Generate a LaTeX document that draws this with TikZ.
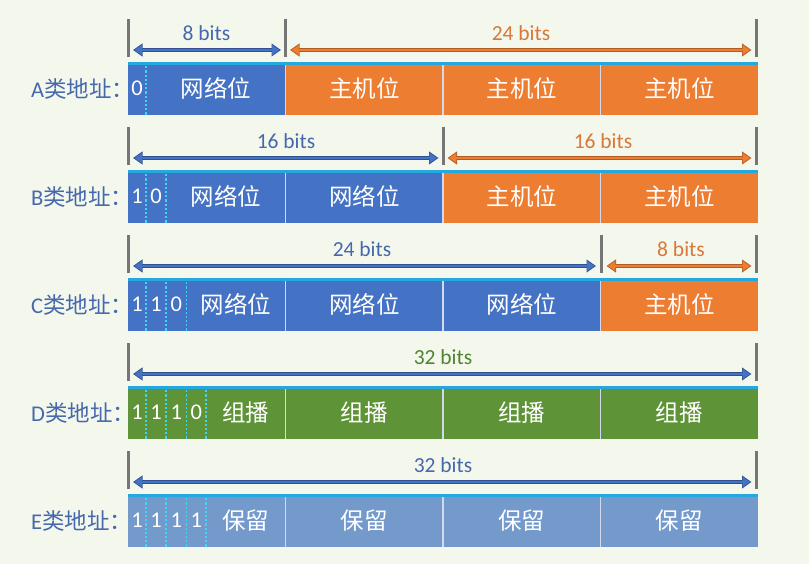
\documentclass[tikz,border=0pt]{standalone}
\usepackage{fontspec}
\setmainfont{Carlito}
\newfontfamily\cjk{Noto Sans CJK SC}
\usetikzlibrary{arrows.meta}
\definecolor{bg}{HTML}{F4F7EC}
\definecolor{cblue}{HTML}{4472C4}
\definecolor{corange}{HTML}{ED7D31}
\definecolor{cgreen}{HTML}{5E9338}
\definecolor{clight}{HTML}{7499CB}
\definecolor{cbar}{HTML}{25A8DE}
\definecolor{cdash}{HTML}{3FD6F6}
\definecolor{csep}{HTML}{D3D9EC}
\definecolor{ctick}{HTML}{767676}
\definecolor{tblue}{HTML}{4569AC}
\definecolor{torange}{HTML}{D8783A}
\definecolor{tgreen}{HTML}{4F8430}
\definecolor{ablueo}{HTML}{2F528F}
\definecolor{aorangeo}{HTML}{B15C22}
\tikzset{
  cell/.style={inner sep=0pt, outer sep=0pt, minimum height=53pt, text=white,
    font=\cjk\fontsize{23.5}{23.5}\selectfont},
  bitcell/.style={inner sep=0pt, outer sep=0pt, minimum height=53pt, text=white,
    font=\fontsize{22.5}{22.5}\selectfont},
  rowlabel/.style={inner sep=0pt, anchor=west, text=tblue,
    font=\fontsize{22.5}{22.5}\selectfont},
  dimlabel/.style={inner sep=0pt, font=\fontsize{21.5}{21.5}\selectfont},
  sepline/.style={draw=csep, line width=1.6pt},
  dashline/.style={draw=cdash, line width=1.6pt, dash pattern=on 2.2pt off 2pt},
  tickline/.style={draw=ctick, line width=3pt},
  arrout/.style={line width=4.6pt, draw=#1,
    {Triangle[length=9.5pt,width=12.5pt]}-{Triangle[length=9.5pt,width=12.5pt]}},
  arrin/.style={line width=2.6pt, draw=#1, shorten <=1.4pt, shorten >=1.4pt,
    {Triangle[length=7.5pt,width=9.5pt]}-{Triangle[length=7.5pt,width=9.5pt]}},
}
\begin{document}
\begin{tikzpicture}[x=1pt,y=-1pt]
\useasboundingbox (0,0) rectangle (809,564);
\fill[bg] (0,0) rectangle (809,564);

% ---------------- Row A ----------------
\node[rowlabel] (LA) at (31,88.5) {A{\cjk 类地址：}};
\node[bitcell, fill=cblue, minimum width=18pt] (A0) at (137,88.5) {0};
\node[cell, fill=cblue, minimum width=139.5pt] (A1) at (215.75,88.5) {网络位};
\node[cell, fill=corange, minimum width=157.5pt] (A2) at (364.25,88.5) {主机位};
\node[cell, fill=corange, minimum width=157.5pt] (A3) at (521.75,88.5) {主机位};
\node[cell, fill=corange, minimum width=157.5pt] (A4) at (679.25,88.5) {主机位};
\draw[dashline] (A0.north east) -- (A0.south east);
\foreach \c in {A1,A2,A3} \draw[sepline] (\c.north east) -- (\c.south east);
\fill[cbar] (A0.north west) rectangle ([yshift=-3pt]A4.north east);
\draw[tickline] (128.5,19) -- (128.5,57);
\draw[tickline] (285.5,19) -- (285.5,57);
\draw[tickline] (756.5,19) -- (756.5,57);
\coordinate (pA0) at (133,50);
\coordinate (pA1) at (281,50);
\coordinate (pA2) at (290,50);
\coordinate (pA3) at (751.5,50);
\draw[arrout=ablueo] (pA0) -- (pA1);
\draw[arrin=cblue] (pA0) -- (pA1);
\draw[arrout=aorangeo] (pA2) -- (pA3);
\draw[arrin=corange] (pA2) -- (pA3);
\node[dimlabel, text=tblue] (dA1) at (206.5,33) {8 bits};
\node[dimlabel, text=torange] (dA2) at (521,33) {24 bits};

% ---------------- Row B ----------------
\node[rowlabel] (LB) at (31,196.5) {B{\cjk 类地址：}};
\node[bitcell, fill=cblue, minimum width=18pt] (B0) at (137,196.5) {1};
\node[bitcell, fill=cblue, minimum width=20pt] (B1) at (156,196.5) {0};
\node[cell, fill=cblue, minimum width=119.5pt] (B2) at (225.75,196.5) {网络位};
\node[cell, fill=cblue, minimum width=157.5pt] (B3) at (364.25,196.5) {网络位};
\node[cell, fill=corange, minimum width=157.5pt] (B4) at (521.75,196.5) {主机位};
\node[cell, fill=corange, minimum width=157.5pt] (B5) at (679.25,196.5) {主机位};
\foreach \c in {B0,B1} \draw[dashline] (\c.north east) -- (\c.south east);
\foreach \c in {B2,B3,B4} \draw[sepline] (\c.north east) -- (\c.south east);
\fill[cbar] (B0.north west) rectangle ([yshift=-3pt]B5.north east);
\draw[tickline] (128.5,127) -- (128.5,165);
\draw[tickline] (443,127) -- (443,165);
\draw[tickline] (756.5,127) -- (756.5,165);
\coordinate (pB0) at (133,158);
\coordinate (pB1) at (438.5,158);
\coordinate (pB2) at (447.5,158);
\coordinate (pB3) at (751.5,158);
\draw[arrout=ablueo] (pB0) -- (pB1);
\draw[arrin=cblue] (pB0) -- (pB1);
\draw[arrout=aorangeo] (pB2) -- (pB3);
\draw[arrin=corange] (pB2) -- (pB3);
\node[dimlabel, text=tblue] (dB1) at (286,141) {16 bits};
\node[dimlabel, text=torange] (dB2) at (603,141) {16 bits};

% ---------------- Row C ----------------
\node[rowlabel] (LC) at (31,304.5) {C{\cjk 类地址：}};
\node[bitcell, fill=cblue, minimum width=18pt] (C0) at (137,304.5) {1};
\node[bitcell, fill=cblue, minimum width=20pt] (C1) at (156,304.5) {1};
\node[bitcell, fill=cblue, minimum width=20.5pt] (C2) at (176.25,304.5) {0};
\node[cell, fill=cblue, minimum width=99pt] (C3) at (236,304.5) {网络位};
\node[cell, fill=cblue, minimum width=157.5pt] (C4) at (364.25,304.5) {网络位};
\node[cell, fill=cblue, minimum width=157.5pt] (C5) at (521.75,304.5) {网络位};
\node[cell, fill=corange, minimum width=157.5pt] (C6) at (679.25,304.5) {主机位};
\foreach \c in {C0,C1,C2} \draw[dashline] (\c.north east) -- (\c.south east);
\foreach \c in {C3,C4,C5} \draw[sepline] (\c.north east) -- (\c.south east);
\fill[cbar] (C0.north west) rectangle ([yshift=-3pt]C6.north east);
\draw[tickline] (128.5,235) -- (128.5,273);
\draw[tickline] (601,235) -- (601,273);
\draw[tickline] (756.5,235) -- (756.5,273);
\coordinate (pC0) at (133,266);
\coordinate (pC1) at (596,266);
\coordinate (pC2) at (606.5,266);
\coordinate (pC3) at (751.5,266);
\draw[arrout=ablueo] (pC0) -- (pC1);
\draw[arrin=cblue] (pC0) -- (pC1);
\draw[arrout=aorangeo] (pC2) -- (pC3);
\draw[arrin=corange] (pC2) -- (pC3);
\node[dimlabel, text=tblue] (dC1) at (362,249) {24 bits};
\node[dimlabel, text=torange] (dC2) at (681,249) {8 bits};

% ---------------- Row D ----------------
\node[rowlabel] (LD) at (31,412.5) {D{\cjk 类地址：}};
\node[bitcell, fill=cgreen, minimum width=18pt] (D0) at (137,412.5) {1};
\node[bitcell, fill=cgreen, minimum width=20pt] (D1) at (156,412.5) {1};
\node[bitcell, fill=cgreen, minimum width=20.5pt] (D2) at (176.25,412.5) {1};
\node[bitcell, fill=cgreen, minimum width=19.5pt] (D3) at (196.25,412.5) {0};
\node[cell, fill=cgreen, minimum width=79.5pt] (D4) at (245.75,412.5) {组播};
\node[cell, fill=cgreen, minimum width=157.5pt] (D5) at (364.25,412.5) {组播};
\node[cell, fill=cgreen, minimum width=157.5pt] (D6) at (521.75,412.5) {组播};
\node[cell, fill=cgreen, minimum width=157.5pt] (D7) at (679.25,412.5) {组播};
\foreach \c in {D0,D1,D2,D3} \draw[dashline] (\c.north east) -- (\c.south east);
\foreach \c in {D4,D5,D6} \draw[sepline] (\c.north east) -- (\c.south east);
\fill[cbar] (D0.north west) rectangle ([yshift=-3pt]D7.north east);
\draw[tickline] (128.5,343) -- (128.5,381);
\draw[tickline] (756.5,343) -- (756.5,381);
\coordinate (pD0) at (133,374);
\coordinate (pD1) at (751.5,374);
\draw[arrout=ablueo] (pD0) -- (pD1);
\draw[arrin=cblue] (pD0) -- (pD1);
\node[dimlabel, text=tgreen] (dD1) at (443,357) {32 bits};

% ---------------- Row E ----------------
\node[rowlabel] (LE) at (31,520.5) {E{\cjk 类地址：}};
\node[bitcell, fill=clight, minimum width=18pt] (E0) at (137,520.5) {1};
\node[bitcell, fill=clight, minimum width=20pt] (E1) at (156,520.5) {1};
\node[bitcell, fill=clight, minimum width=20.5pt] (E2) at (176.25,520.5) {1};
\node[bitcell, fill=clight, minimum width=19.5pt] (E3) at (196.25,520.5) {1};
\node[cell, fill=clight, minimum width=79.5pt] (E4) at (245.75,520.5) {保留};
\node[cell, fill=clight, minimum width=157.5pt] (E5) at (364.25,520.5) {保留};
\node[cell, fill=clight, minimum width=157.5pt] (E6) at (521.75,520.5) {保留};
\node[cell, fill=clight, minimum width=157.5pt] (E7) at (679.25,520.5) {保留};
\foreach \c in {E0,E1,E2,E3} \draw[dashline] (\c.north east) -- (\c.south east);
\foreach \c in {E4,E5,E6} \draw[sepline] (\c.north east) -- (\c.south east);
\fill[cbar] (E0.north west) rectangle ([yshift=-3pt]E7.north east);
\draw[tickline] (128.5,451) -- (128.5,489);
\draw[tickline] (756.5,451) -- (756.5,489);
\coordinate (pE0) at (133,482);
\coordinate (pE1) at (751.5,482);
\draw[arrout=ablueo] (pE0) -- (pE1);
\draw[arrin=cblue] (pE0) -- (pE1);
\node[dimlabel, text=tblue] (dE1) at (443,465) {32 bits};
\end{tikzpicture}
\end{document}
